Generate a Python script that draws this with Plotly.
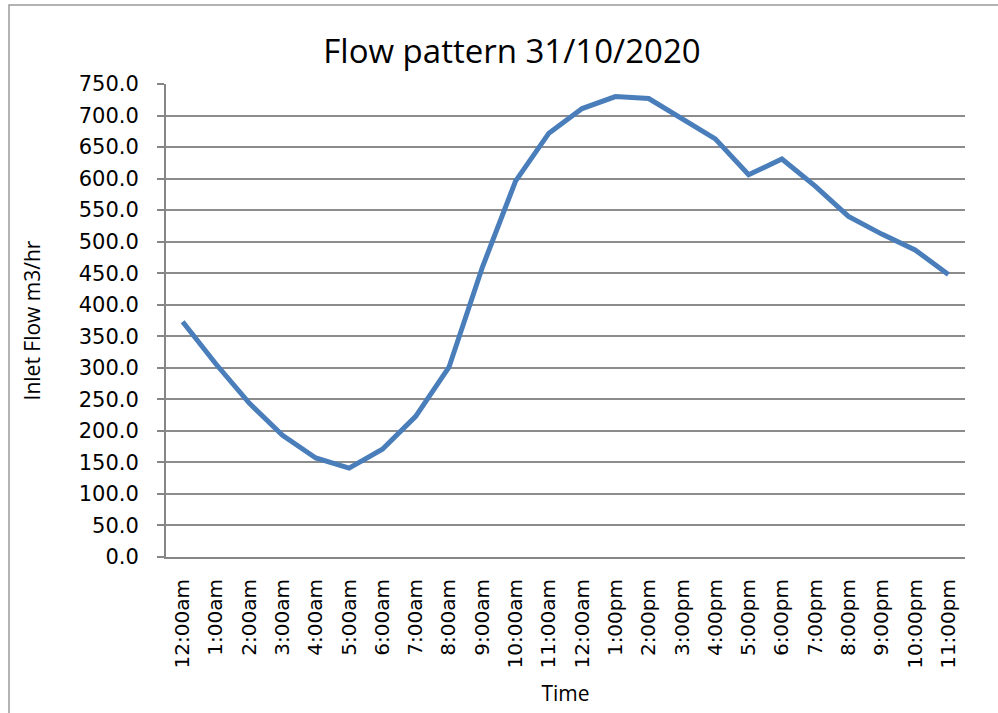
import plotly.graph_objects as go

times = ["12:00am", "1:00am", "2:00am", "3:00am", "4:00am", "5:00am", "6:00am", "7:00am",
         "8:00am", "9:00am", "10:00am", "11:00am", "12:00am", "1:00pm", "2:00pm", "3:00pm",
         "4:00pm", "5:00pm", "6:00pm", "7:00pm", "8:00pm", "9:00pm", "10:00pm", "11:00pm"]
flow = [373, 306, 244, 193, 157, 141, 171, 223, 301, 459, 596, 672, 711, 730, 727, 695,
        663, 606, 631, 588, 540, 512, 487, 448]

x_idx = list(range(len(times)))

fig = go.Figure()
fig.add_trace(go.Scatter(x=x_idx, y=flow, mode="lines",
                         line=dict(color="#4A7EBB", width=5), showlegend=False))

fig.update_layout(
    width=998, height=713,
    margin=dict(l=166, r=33, t=84, b=156),
    paper_bgcolor="white", plot_bgcolor="white",
    title=dict(text="Flow pattern 31/10/2020", x=0.513, xanchor="center", y=0.928, yanchor="middle",
               font=dict(family="Open Sans", size=33, color="black")),
    font=dict(family="DejaVu Sans", color="black"),
    xaxis=dict(tickmode="array", tickvals=x_idx, ticktext=times, tickangle=-90,
               range=[-0.5, len(times) - 0.5], showgrid=False, showline=True,
               linecolor="#868686", linewidth=2, ticks="", tickfont=dict(size=20, family="DejaVu Sans"),
               ticklabelstandoff=12, automargin=False,
               title=dict(text="Time", font=dict(family="Open Sans", size=21), standoff=18),
               zeroline=False, mirror=False),
    yaxis=dict(range=[0, 750], dtick=50, tickformat=".1f", showgrid=True, gridcolor="#8C8C8C",
               gridwidth=1.7, showline=True, linecolor="#868686", linewidth=2,
               ticks="outside", ticklen=7, tickcolor="#868686", tickwidth=2,
               tickfont=dict(size=21, family="DejaVu Sans"), ticklabelstandoff=14, automargin=False,
               title=dict(text="Inlet Flow m3/hr", font=dict(family="Open Sans", size=21), standoff=32),
               zeroline=False),
    shapes=[dict(type="rect", xref="paper", yref="paper",
                 x0=(9 - 166) / 799, x1=(1010 - 166) / 799, y0=(557 - 720) / 473, y1=(557 - 5) / 473,
                 line=dict(color="#9A9A9A", width=1.5), fillcolor="rgba(0,0,0,0)", layer="below")],
)

fig.write_html("out.html", config={"displayModeBar": False},
               post_script="document.body.style.margin='0';")
